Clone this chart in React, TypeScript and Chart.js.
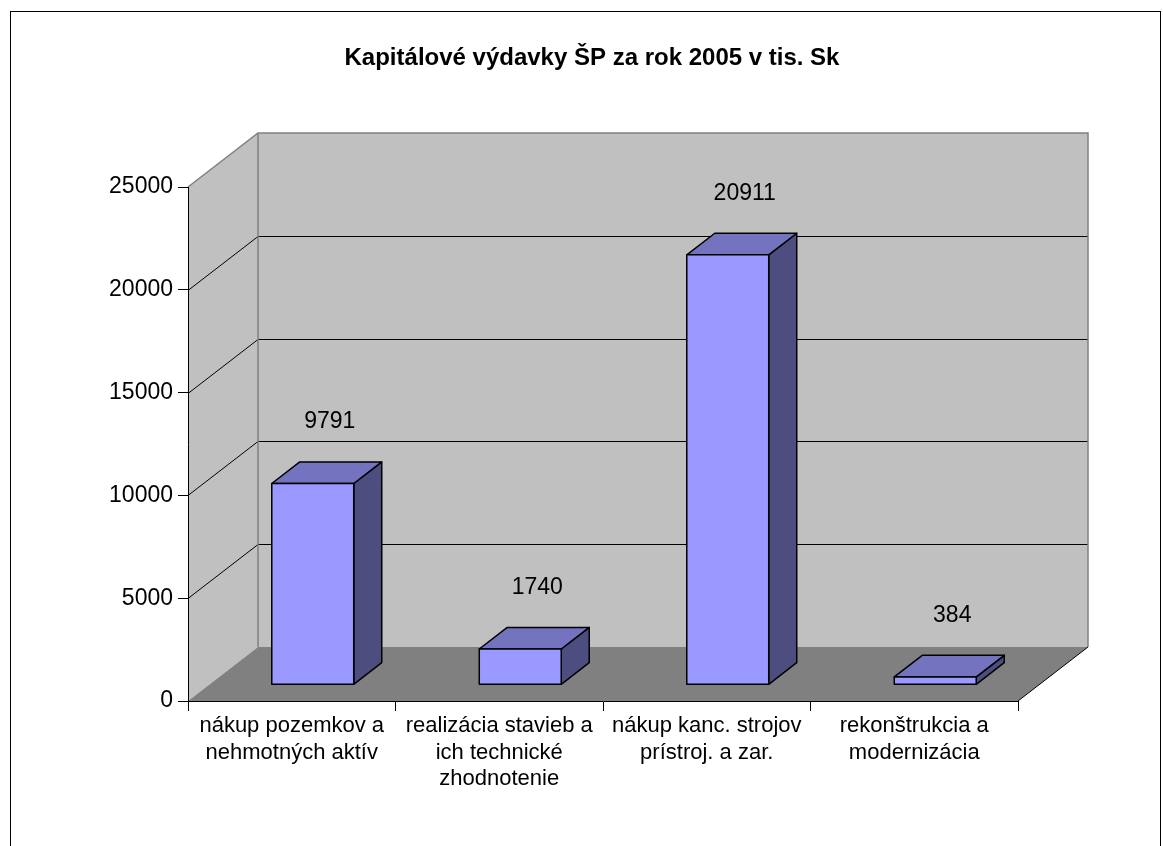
import React, { useEffect, useRef } from "react";
import { Chart, registerables } from "chart.js";

Chart.register(...registerables);

const titleText = "Kapitálové výdavky ŠP za rok 2005 v tis. Sk";
const categories: string[][] = [
  ["nákup pozemkov a", "nehmotných aktív"],
  ["realizácia stavieb a", "ich technické", "zhodnotenie"],
  ["nákup kanc. strojov", "prístroj. a zar."],
  ["rekonštrukcia a", "modernizácia"],
];
const values: number[] = [9791, 1740, 20911, 384];
const yMin = 0;
const yMax = 25000;
const yStep = 5000;

const FONT = "Arial, 'Liberation Sans', sans-serif";
const DEPTH_X = 70;
const DEPTH_Y = 54;
const GAP = 0.3;
const BAR_DEPTH = 0.4;

const wallPlugin = {
  id: "walls3d",
  beforeDraw(chart: any) {
    const { ctx, chartArea } = chart;
    const L = chartArea.left, R = chartArea.right, T = chartArea.top, B = chartArea.bottom;
    ctx.save();
    ctx.fillStyle = "#ffffff";
    ctx.fillRect(0, 0, chart.width, chart.height);
    ctx.strokeStyle = "#000";
    ctx.lineWidth = 1;
    ctx.strokeRect(10.5, 11.5, 1150, 900);
    ctx.fillStyle = "#000";
    ctx.font = "bold 24px " + FONT;
    ctx.textAlign = "center";
    ctx.textBaseline = "middle";
    ctx.fillText(titleText, 592, 58);

    ctx.fillStyle = "#c0c0c0";
    ctx.beginPath();
    ctx.moveTo(L, B);
    ctx.lineTo(L, T);
    ctx.lineTo(L + DEPTH_X, T - DEPTH_Y);
    ctx.lineTo(L + DEPTH_X, B - DEPTH_Y);
    ctx.closePath();
    ctx.fill();
    ctx.fillRect(L + DEPTH_X, T - DEPTH_Y, R - L, B - T);
    ctx.fillStyle = "#808080";
    ctx.beginPath();
    ctx.moveTo(L, B);
    ctx.lineTo(L + DEPTH_X, B - DEPTH_Y);
    ctx.lineTo(R + DEPTH_X, B - DEPTH_Y);
    ctx.lineTo(R, B);
    ctx.closePath();
    ctx.fill();

    const ys = chart.scales.y;
    ctx.strokeStyle = "#000";
    ctx.lineWidth = 1;
    for (let v = yMin + yStep; v < yMax; v += yStep) {
      const y = Math.round(ys.getPixelForValue(v)) + 0.5;
      ctx.beginPath();
      ctx.moveTo(L, y);
      ctx.lineTo(L + DEPTH_X, y - DEPTH_Y);
      ctx.lineTo(R + DEPTH_X, y - DEPTH_Y);
      ctx.stroke();
    }
    ctx.strokeStyle = "#808080";
    ctx.lineWidth = 1.5;
    ctx.beginPath();
    ctx.moveTo(L, T);
    ctx.lineTo(L + DEPTH_X, T - DEPTH_Y);
    ctx.lineTo(R + DEPTH_X, T - DEPTH_Y);
    ctx.lineTo(R + DEPTH_X, B - DEPTH_Y);
    ctx.moveTo(L + DEPTH_X, T - DEPTH_Y);
    ctx.lineTo(L + DEPTH_X, B - DEPTH_Y);
    ctx.stroke();
    ctx.strokeStyle = "#000";
    ctx.lineWidth = 1;
    ctx.beginPath();
    ctx.moveTo(R + DEPTH_X, B - DEPTH_Y);
    ctx.lineTo(R, B);
    ctx.stroke();
    ctx.restore();
  },
  afterDatasetsDraw(chart: any) {
    const { ctx } = chart;
    const meta = chart.getDatasetMeta(0);
    const ox = DEPTH_X * GAP, oy = DEPTH_Y * GAP;
    const bx = DEPTH_X * BAR_DEPTH, by = DEPTH_Y * BAR_DEPTH;
    ctx.save();
    ctx.lineJoin = "round";
    ctx.lineWidth = 1.5;
    ctx.strokeStyle = "#000";
    meta.data.forEach((bar: any, i: number) => {
      const w = bar.width;
      const x0 = bar.x - w / 2 + ox;
      const x1 = bar.x + w / 2 + ox;
      const yTop = bar.y - oy;
      const yBot = bar.base - oy;
      ctx.fillStyle = "#4d4d80";
      ctx.beginPath();
      ctx.moveTo(x1, yBot);
      ctx.lineTo(x1, yTop);
      ctx.lineTo(x1 + bx, yTop - by);
      ctx.lineTo(x1 + bx, yBot - by);
      ctx.closePath();
      ctx.fill();
      ctx.stroke();
      ctx.fillStyle = "#7373bf";
      ctx.beginPath();
      ctx.moveTo(x0, yTop);
      ctx.lineTo(x0 + bx, yTop - by);
      ctx.lineTo(x1 + bx, yTop - by);
      ctx.lineTo(x1, yTop);
      ctx.closePath();
      ctx.fill();
      ctx.stroke();
      ctx.fillStyle = "#9999ff";
      ctx.beginPath();
      ctx.rect(x0, yTop, x1 - x0, yBot - yTop);
      ctx.fill();
      ctx.stroke();
      ctx.fillStyle = "#000";
      ctx.font = "23px " + FONT;
      ctx.textAlign = "center";
      ctx.textBaseline = "middle";
      ctx.fillText(String(values[i]), bar.x + ox + bx / 2 + 3, yTop - by - 40);
    });
    ctx.restore();
  },
};

export default function App() {
  const ref = useRef<HTMLCanvasElement | null>(null);
  useEffect(() => {
    if (!ref.current) return;
    const chart = new Chart(ref.current, {
      type: "bar",
      data: {
        labels: categories,
        datasets: [
          {
            data: values,
            backgroundColor: "rgba(0,0,0,0)",
            borderWidth: 0,
            categoryPercentage: 1,
            barPercentage: 0.395,
          },
        ],
      },
      options: {
        responsive: false,
        animation: false,
        layout: { padding: { top: 187, right: 145, left: 0, bottom: 0 } },
        plugins: {
          legend: { display: false },
          title: { display: false },
          tooltip: { enabled: false },
        },
        scales: {
          x: {
            grid: { drawOnChartArea: false, drawTicks: true, tickLength: 10, color: "#000", offset: true },
            border: { display: true, color: "#000", width: 1 },
            ticks: {
              color: "#000",
              font: { family: FONT, size: 22, lineHeight: 1.2 },
              padding: 2,
              maxRotation: 0,
              autoSkip: false,
            },
            afterFit: (s: any) => {
              s.height = 145;
            },
          },
          y: {
            min: yMin,
            max: yMax,
            grid: { drawOnChartArea: false, drawTicks: true, tickLength: 10, color: "#000" },
            border: { display: true, color: "#000", width: 1 },
            ticks: {
              stepSize: yStep,
              color: "#000",
              font: { family: FONT, size: 23 },
              padding: 5,
              callback: (v: any) => String(v),
            },
            afterFit: (s: any) => {
              s.width = 188;
            },
          },
        },
      },
      plugins: [wallPlugin],
    });
    return () => chart.destroy();
  }, []);
  return (
    <div style={{ position: "fixed", left: 0, top: 0, width: 1163, height: 846, background: "#fff" }}>
      <canvas ref={ref} width={1163} height={846} style={{ display: "block" }} />
    </div>
  );
}
